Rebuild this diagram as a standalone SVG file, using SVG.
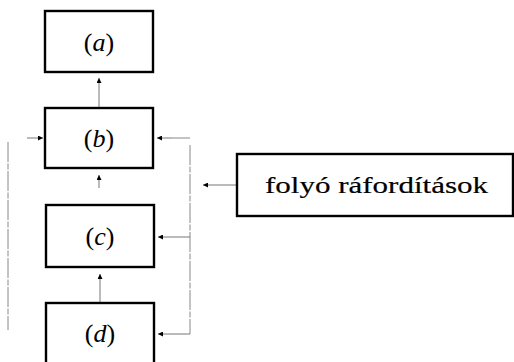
<svg xmlns="http://www.w3.org/2000/svg" width="514" height="362" viewBox="0 0 514 362">
<defs>
<marker id="ah" viewBox="0 0 10 10" refX="10" refY="5" markerWidth="7" markerHeight="5" orient="auto" markerUnits="userSpaceOnUse">
<path d="M0,0 L10,5 L0,10 Z" fill="#000"/>
</marker>
<style>
.box{fill:#fff;stroke:#000;stroke-width:2.4}
.lbl{font-family:"Liberation Serif","DejaVu Serif",serif;font-size:26px;text-anchor:middle;fill:#000}
.lbl tspan{font-style:italic}
.big{font-family:"Liberation Serif","DejaVu Serif",serif;font-size:24px;fill:#000;stroke:#000;stroke-width:0.2}
.c{fill:none;stroke:#888;stroke-width:1;stroke-dasharray:20 1.5 6 1.5}
.a{fill:none;stroke:#777;stroke-width:1;marker-end:url(#ah)}
</style>
</defs>
<rect width="514" height="362" fill="#fff"/>
<g id="connectors">
<path class="a" d="M99,108 V78"/>
<path class="a" d="M99,188 V175"/>
<path class="a" d="M100,303 V274"/>
<path class="a" d="M27,138 H43"/>
<path class="c" d="M8,142 V330"/>
<path class="c" d="M190,138 H172 M190,145 V334"/>
<path class="a" d="M172,138 H157"/>
<path class="a" d="M190,237 H158"/>
<path class="a" d="M190,334 H158"/>
<path class="a" d="M236,185 H203"/>
</g>
<g id="a"><rect class="box" x="45" y="11" width="108" height="61"/><text class="lbl" x="99" y="51">(<tspan>a</tspan>)</text></g>
<g id="b"><rect class="box" x="45" y="108" width="108" height="60"/><text class="lbl" x="99" y="147">(<tspan>b</tspan>)</text></g>
<g id="c"><rect class="box" x="46" y="205" width="108" height="62"/><text class="lbl" x="100" y="245">(<tspan>c</tspan>)</text></g>
<g id="d"><rect class="box" x="46" y="303" width="108" height="70"/><text class="lbl" x="100" y="342">(<tspan>d</tspan>)</text></g>
<g id="e"><rect class="box" x="237" y="154" width="276" height="62"/><text class="big" x="265" y="193" textLength="223" lengthAdjust="spacingAndGlyphs">folyó ráfordítások</text></g>
</svg>
